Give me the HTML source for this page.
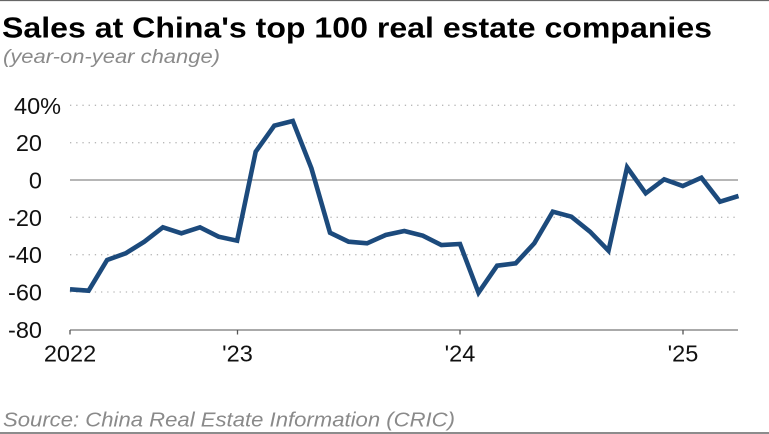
<!DOCTYPE html>
<html>
<head>
<meta charset="utf-8">
<style>
html,body{margin:0;padding:0;background:#fff;}
svg{display:block;}
</style>
</head>
<body>
<svg width="769" height="434" viewBox="0 0 769 434" xmlns="http://www.w3.org/2000/svg" font-family="'Liberation Sans', Arial, sans-serif">
  <rect x="0" y="0" width="769" height="434" fill="#fff"/>
  <line x1="0" y1="0.5" x2="769" y2="0.5" stroke="#666" stroke-width="1.2"/>
  <line x1="0" y1="433" x2="769" y2="433" stroke="#666" stroke-width="1.5"/>

  <text x="2" y="37.5" font-size="29" font-weight="bold" fill="#000" textLength="710" lengthAdjust="spacingAndGlyphs">Sales at China's top 100 real estate companies</text>
  <text x="3" y="63" font-size="19" font-style="italic" fill="#8a8a8a" textLength="217" lengthAdjust="spacingAndGlyphs">(year-on-year change)</text>

  <!-- gridlines -->
  <g stroke="#b8b8b8" stroke-width="1.3" stroke-dasharray="1.3 4.9">
    <line x1="70" y1="105.3" x2="738" y2="105.3"/>
    <line x1="70" y1="142.7" x2="738" y2="142.7"/>
    <line x1="70" y1="217.3" x2="738" y2="217.3"/>
    <line x1="70" y1="254.7" x2="738" y2="254.7"/>
    <line x1="70" y1="292" x2="738" y2="292"/>
  </g>
  <line x1="70" y1="180" x2="738" y2="180" stroke="#8a8a8a" stroke-width="1.2"/>
  <!-- x axis -->
  <line x1="70" y1="330" x2="738" y2="330" stroke="#777" stroke-width="1.3"/>
  <g stroke="#555" stroke-width="1.3">
    <line x1="70" y1="330" x2="70" y2="334.5"/>
    <line x1="237.5" y1="330" x2="237.5" y2="334.5"/>
    <line x1="460" y1="330" x2="460" y2="334.5"/>
    <line x1="683" y1="330" x2="683" y2="334.5"/>
  </g>

  <!-- y labels -->
  <g font-size="23.5" fill="#111">
    <text x="14" y="113.8">40%</text>
    <text x="42" y="151.2" text-anchor="end">20</text>
    <text x="42" y="188.5" text-anchor="end">0</text>
    <text x="42" y="225.8" text-anchor="end">-20</text>
    <text x="42" y="263.2" text-anchor="end">-40</text>
    <text x="42" y="300.5" text-anchor="end">-60</text>
    <text x="42" y="337.8" text-anchor="end">-80</text>
  </g>
  <!-- x labels -->
  <g font-size="23.5" fill="#111" text-anchor="middle">
    <text x="70" y="361.7">2022</text>
    <text x="237.5" y="361.7">'23</text>
    <text x="460" y="361.7">'24</text>
    <text x="683" y="361.7">'25</text>
  </g>

  <polyline fill="none" stroke="#1c4a7c" stroke-width="4.6" stroke-linejoin="miter" stroke-miterlimit="3" stroke-linecap="butt"
    points="70,289.3 88.6,290.7 107.1,260 125.7,253.3 144.3,241.7 162.9,227.3 181.4,233.3 200,227.3 218.6,236.7 237.1,240.7 255.7,151.7 274.3,125.7 292.8,121 311.4,168.3 330,232.7 348.6,241.7 367.1,243.3 385.7,235 404.3,231 422.8,235.7 441.4,245 460,244 478.5,292.7 497.1,265.7 515.7,263.3 534.3,243.3 552.8,211.7 571.4,216.7 590,231.7 608.5,250.7 627.1,167.3 645.7,193.3 664.2,179.3 682.8,186 701.4,177.7 720,201.7 738.5,196"/>

  <text x="3" y="426.5" font-size="20" font-style="italic" fill="#8a8a8a" textLength="452" lengthAdjust="spacingAndGlyphs">Source: China Real Estate Information (CRIC)</text>
</svg>
</body>
</html>
